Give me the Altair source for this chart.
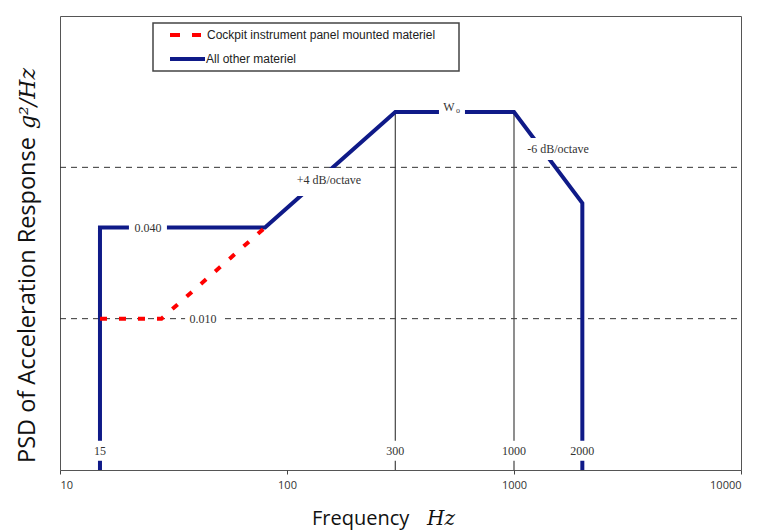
import altair as alt
import pandas as pd

# ---- data ----
freq_all = [15, 15, 80, 300, 1000, 2000, 2000]
psd_all = [0.001, 0.04, 0.04, 0.232, 0.232, 0.058, 0.001]

freq_cockpit = [15, 28, 80]
psd_cockpit = [0.01, 0.01, 0.04]

grid_levels = [0.01, 0.1]

marker_freqs = [300, 1000]
marker_top = [0.232, 0.232]

x_ticks = [10, 100, 1000, 10000]

ann_text = ["0.040", "0.010", "+4 dB/octave", "-6 dB/octave"]
ann_freq = [24.4, 42.7, 153, 1563]
ann_psd = [0.04, 0.01, 0.0825, 0.132]

freq_label_text = ["15", "300", "1000", "2000"]
freq_label_vals = [15, 300, 1000, 2000]
freq_label_psd = [0.00134, 0.00134, 0.00134, 0.00134]

w0_freq = [533]
w0_psd = [0.232]

legend_labels = ["Cockpit instrument panel mounted materiel", "All other materiel"]

NAVY = "#0f1a88"
SERIF = "Liberation Serif"
SANS = "Liberation Sans"
TITLE_FONT = "Open Sans"

xscale = alt.Scale(type="log", domain=[10, 10000], nice=False)
yscale = alt.Scale(type="log", domain=[0.001, 1], nice=False)
xaxis = alt.Axis(values=x_ticks, format="d", title=None, grid=False, domain=False,
                 tickSize=4, tickColor="#444", tickWidth=1,
                 labelFont=TITLE_FONT, labelFontSize=11, labelColor="#333", labelPadding=5)


def X(field):
    return alt.X(field, type="quantitative", scale=xscale, axis=xaxis)


def Y(field):
    return alt.Y(field, type="quantitative", scale=yscale, axis=None)


one = pd.DataFrame({"k": [0]})

df_all = pd.DataFrame({"f": freq_all, "p": psd_all, "i": list(range(len(freq_all)))})
df_ck = pd.DataFrame({"f": freq_cockpit, "p": psd_cockpit, "i": list(range(len(freq_cockpit)))})
df_grid = pd.DataFrame({"p": grid_levels})
df_mark = pd.DataFrame({"f": marker_freqs, "top": marker_top, "bot": [0.001] * len(marker_freqs)})
df_ann = pd.DataFrame({"t": ann_text, "f": ann_freq, "p": ann_psd})
df_fl = pd.DataFrame({"t": freq_label_text, "f": freq_label_vals, "p": freq_label_psd})
df_w0 = pd.DataFrame({"f": w0_freq, "p": w0_psd})

layers = []

# dashed reference lines
layers.append(
    alt.Chart(df_grid).mark_rule(color="#333", strokeWidth=1, strokeDash=[6, 5]).encode(
        y=Y("p"), x=alt.value(0), x2=alt.value(681))
)

# thin vertical markers at 300 and 1000
layers.append(
    alt.Chart(df_mark).mark_rule(color="#444", strokeWidth=1.2).encode(
        x=X("f"), y=Y("top"), y2=alt.Y2("bot"))
)

# navy profile
layers.append(
    alt.Chart(df_all).mark_line(color=NAVY, strokeWidth=4, strokeCap="butt", strokeJoin="miter").encode(
        x=X("f"), y=Y("p"), order=alt.Order("i:Q"))
)

# red dashed cockpit profile
layers.append(
    alt.Chart(df_ck).mark_line(color="#ff0000", strokeWidth=4, strokeDash=[7, 12], strokeCap="butt").encode(
        x=X("f"), y=Y("p"), order=alt.Order("i:Q"))
)


# white boxes behind labels
def box(df, text, w, h, dy=0):
    return alt.Chart(df).transform_filter(alt.datum.t == text).mark_rect(
        width=w, height=h, color="white", yOffset=dy).encode(x=X("f"), y=Y("p"))


layers += [
    box(df_ann, "0.040", 38, 10),
    box(df_ann, "0.010", 36, 8),
    box(df_ann, "+4 dB/octave", 72, 28, 2),
    box(df_ann, "-6 dB/octave", 70, 22),
    box(df_fl, "15", 20, 20),
    box(df_fl, "300", 26, 20),
    box(df_fl, "1000", 32, 20),
    box(df_fl, "2000", 32, 20),
]
layers.append(
    alt.Chart(df_w0).mark_rect(width=26, height=10, color="white").encode(x=X("f"), y=Y("p"))
)

# annotation texts
layers.append(
    alt.Chart(df_ann).mark_text(font=SERIF, fontSize=12, color="#333", baseline="middle").encode(
        x=X("f"), y=Y("p"), text="t:N")
)
layers.append(
    alt.Chart(df_fl).mark_text(font=SERIF, fontSize=12, color="#333", baseline="middle").encode(
        x=X("f"), y=Y("p"), text="t:N")
)
layers.append(
    alt.Chart(df_w0).mark_text(font=SERIF, fontSize=12, color="#333", baseline="alphabetic", dx=-3, dy=-1).encode(
        x=X("f"), y=Y("p"), text=alt.value("W"))
)
layers.append(
    alt.Chart(df_w0).mark_text(font=SERIF, fontSize=8, color="#333", baseline="alphabetic", dx=6, dy=1).encode(
        x=X("f"), y=Y("p"), text=alt.value("o"))
)

# legend (manual box)
layers.append(
    alt.Chart(one).mark_rect(fill="white", stroke="#444", strokeWidth=1.5).encode(
        x=alt.value(93), x2=alt.value(399), y=alt.value(7), y2=alt.value(55))
)
layers.append(
    alt.Chart(one).mark_rule(color="#ff0000", strokeWidth=4, strokeDash=[10, 12]).encode(
        x=alt.value(110), x2=alt.value(141), y=alt.value(19))
)
layers.append(
    alt.Chart(one).mark_rule(color=NAVY, strokeWidth=4).encode(
        x=alt.value(110), x2=alt.value(145), y=alt.value(43))
)
layers.append(
    alt.Chart(one).mark_text(font=SANS, fontSize=12, color="#222", align="left", baseline="middle").encode(
        x=alt.value(147), y=alt.value(19), text=alt.value(legend_labels[0]))
)
layers.append(
    alt.Chart(one).mark_text(font=SANS, fontSize=12, color="#222", align="left", baseline="middle").encode(
        x=alt.value(146), y=alt.value(43), text=alt.value(legend_labels[1]))
)

# axis titles
layers.append(
    alt.Chart(one).mark_text(font=TITLE_FONT, fontSize=20, color="#111", align="left", baseline="alphabetic").encode(
        x=alt.value(252), y=alt.value(509), text=alt.value("Frequency"))
)
layers.append(
    alt.Chart(one).mark_text(font="DejaVu Serif", fontSize=20, fontStyle="italic", color="#111", align="left",
                             baseline="alphabetic").encode(
        x=alt.value(367), y=alt.value(509), text=alt.value("Hz"))
)
layers.append(
    alt.Chart(one).mark_text(font=TITLE_FONT, fontSize=23.5, color="#111", align="left", baseline="alphabetic",
                             angle=270).encode(
        x=alt.value(-25), y=alt.value(447), text=alt.value("PSD of Acceleration Response"))
)
layers.append(
    alt.Chart(one).mark_text(font="DejaVu Serif", fontSize=22, fontStyle="italic", color="#111", align="right",
                             baseline="alphabetic", angle=270).encode(
        x=alt.value(-25), y=alt.value(52), text=alt.value("g²/Hz"))
)

chart = alt.layer(*layers).properties(
    width=681, height=454,
    autosize=alt.AutoSizeParams(type="none"),
    padding={"left": 60, "top": 16, "right": 16, "bottom": 61},
    background="white",
).configure_view(stroke="#555", strokeWidth=1)

chart.save("out.html", embed_options={"renderer": "svg", "actions": False})
